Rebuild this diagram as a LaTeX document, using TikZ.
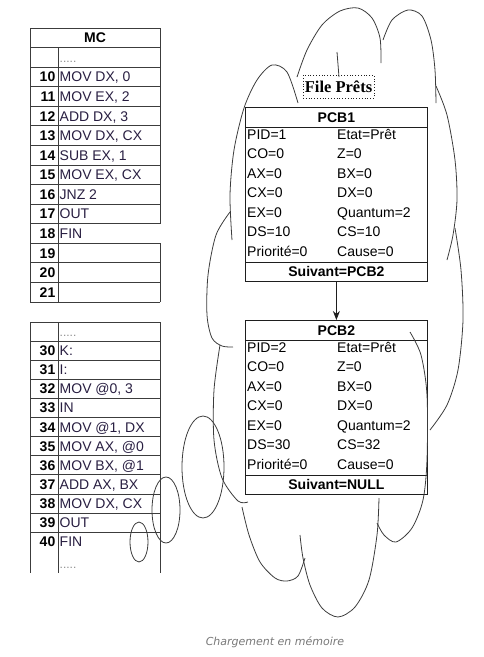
\documentclass[tikz,border=0pt]{standalone}
\usepackage{fontspec}
\setmainfont{Liberation Sans}
\newfontfamily\filefont{Liberation Serif}
\newfontfamily\capfont{DejaVu Sans}
\usepackage{tikz}
\usetikzlibrary{arrows.meta, positioning, calc}
\definecolor{mygrid}{RGB}{60,60,60}
\definecolor{mydark}{RGB}{30,30,30}
\definecolor{mycode}{RGB}{40,30,65}
\definecolor{mydots}{RGB}{140,140,140}
\definecolor{mycap}{RGB}{120,120,120}
\tikzset{
  tabline/.style={line width=0.8pt, color=mygrid},
  headtext/.style={inner sep=0pt, font=\bfseries\fontsize{14}{16}\selectfont,
    text height=10pt, text depth=0pt},
  addr/.style={anchor=east, inner sep=1pt, font=\bfseries\fontsize{14}{16}\selectfont,
    text height=10pt, text depth=0pt},
  codetext/.style={anchor=west, inner sep=1pt, text=mycode,
    font=\fontsize{14}{16}\selectfont, text height=10pt, text depth=0pt},
  dotstext/.style={anchor=base west, inner sep=1pt, text=mydots,
    font=\fontsize{12}{14}\selectfont},
  pcbbox/.style={rectangle, draw=mydark, line width=0.8pt, minimum width=182pt,
    minimum height=174pt, anchor=north west, inner sep=0pt},
  pcbline/.style={line width=0.8pt, color=mydark},
  field/.style={anchor=west, inner sep=0pt, font=\fontsize{14}{16}\selectfont,
    text height=10pt, text depth=0pt},
  filebox/.style={draw=mydark, dotted, line width=0.8pt, minimum width=71pt,
    minimum height=23pt, inner sep=0pt,
    font=\filefont\bfseries\fontsize{16.5}{18}\selectfont},
  arrow/.style={-{Stealth[length=9pt,width=7pt]}, line width=0.8pt, color=mydark},
  cloudline/.style={line width=0.8pt, color=mygrid},
  bubble/.style={line width=0.8pt, color=mygrid},
  captext/.style={font=\capfont\itshape\fontsize{11}{13}\selectfont, text=mycap}
}

\begin{document}
\begin{tikzpicture}[x=1pt, y=-1pt]
  \useasboundingbox (0,0) rectangle (484,657);

  % Memory, first block
  \foreach \k in {0,...,14}
    \draw[tabline] (30,{28+\k*19.57}) -- (160,{28+\k*19.57});
  \draw[tabline] (30,28) -- (30,302);
  \draw[tabline] (58,47.57) -- (58,302);
  \draw[tabline] (160,28) -- (160,223.7);
  \draw[tabline] (160,243.3) -- (160,302);
  \node[headtext] (mc) at (95,37.8) {MC};
  \node[dotstext] (dotsA) at (58.5,62.4) {.....};
  \foreach \num/\ins [count=\k from 2] in {10/{MOV DX, 0}, 11/{MOV EX, 2},
      12/{ADD DX, 3}, 13/{MOV DX, CX}, 14/{SUB EX, 1}, 15/{MOV EX, CX},
      16/{JNZ 2}, 17/OUT, 18/FIN, 19/{}, 20/{}, 21/{}}{
    \node[addr] (a\num) at (56.5,{28+(\k+0.5)*19.57}) {\num};
    \node[codetext] (c\num) at (58.5,{28+(\k+0.5)*19.57}) {\ins};
  }

  % Memory, second block
  \foreach \k in {0,...,11}
    \draw[tabline] (30,{322+\k*19.1}) -- (160,{322+\k*19.1});
  \draw[tabline] (30,322) -- (30,573);
  \draw[tabline] (58,322) -- (58,573);
  \draw[tabline] (160,322) -- (160,573);
  \node[dotstext] (dotsB) at (58.5,336.5) {.....};
  \foreach \num/\ins [count=\k from 1] in {30/K:, 31/I:, 32/{MOV @0, 3}, 33/IN,
      34/{MOV @1, DX}, 35/{MOV AX, @0}, 36/{MOV BX, @1}, 37/{ADD AX, BX},
      38/{MOV DX, CX}, 39/OUT, 40/FIN}{
    \node[addr] (a\num) at (56.5,{322+(\k+0.5)*19.1}) {\num};
    \node[codetext] (c\num) at (58.5,{322+(\k+0.5)*19.1}) {\ins};
  }
  \node[dotstext] (dotsC) at (58.5,568) {.....};

  % Ready queue
  \node[filebox] (file) at (338.5,86.5) {File Prêts};
  \foreach \p/\ytop/\vpid/\vds/\vcs/\vnext in {1/107/1/10/10/PCB2, 2/320/2/30/32/NULL}{
    \node[pcbbox] (pcb\p) at (245,\ytop) {};
    \node[headtext] (pcb\p-head) at ($(pcb\p.north)+(0,10.5)$) {PCB\p};
    \draw[pcbline] ($(pcb\p.north west)+(0,20)$) -- ($(pcb\p.north east)+(0,20)$);
    \draw[pcbline] ($(pcb\p.north west)+(0,155)$) -- ($(pcb\p.north east)+(0,155)$);
    \node[headtext] (pcb\p-next) at ($(pcb\p.north)+(0,164.5)$) {Suivant=\vnext};
    \foreach \l/\r [count=\i from 0] in {PID=\vpid/Etat=Prêt, CO=0/Z=0, AX=0/BX=0,
        CX=0/DX=0, EX=0/Quantum=2, DS=\vds/CS=\vcs, Priorité=0/Cause=0}{
      \node[field] (pcb\p-l\i) at ($(pcb\p.north west)+(2,{27+\i*19.5})$) {\l};
      \node[field] (pcb\p-r\i) at ($(pcb\p.north west)+(92,{27+\i*19.5})$) {\r};
    }
  }
  \draw[arrow] (pcb1.south) -- (pcb2.north);

  % Cloud outline
  \draw[cloudline] plot[smooth] coordinates {(232,240) (230,195) (234,150) (244,108) (257,80) (272,65) (287,72) (298,103)};
  \draw[cloudline] plot[smooth] coordinates {(297,77) (307,50) (322,25) (340,11) (358,8) (372,18) (380,38) (381,63)};
  \draw[cloudline] (337,52) -- (339,77);
  \draw[cloudline] plot[smooth] coordinates {(383,40) (392,20) (408,10) (422,16) (431,40) (435,70) (436,103)};
  \draw[cloudline] plot[smooth] coordinates {(436,86) (447,115) (455,160) (457,200) (453,235) (447,260)};
  \draw[cloudline] plot[smooth] coordinates {(455,228) (461,270) (463,320) (458,370) (447,405) (430,430)};
  \draw[cloudline] plot[smooth] coordinates {(410,332) (421,355) (427,395) (427,460) (423,500) (412,528) (396,542) (384,535) (377,523)};
  \draw[cloudline] plot[smooth] coordinates {(379,498) (377,535) (369,580) (355,607) (338,617) (322,608) (310,585) (303,558) (300,535)};
  \draw[cloudline] plot[smooth] coordinates {(305,558) (298,576) (287,581) (275,578) (260,562) (249,535) (242,507)};
  \draw[cloudline] plot[smooth] coordinates {(220,345) (214,390) (214,440) (222,478) (238,501) (248,502)};
  \draw[cloudline] plot[smooth] coordinates {(230,212) (216,235) (208,275) (207,315) (212,338) (222,346) (233,347)};

  % Thought bubbles
  \draw[bubble] (203,467) ellipse [x radius=21pt, y radius=51pt];
  \draw[bubble] (166,510) ellipse [x radius=14pt, y radius=33pt];
  \draw[bubble] (139,542) ellipse [x radius=9pt, y radius=20pt];

  \node[captext] (caption) at (275,642) {Chargement en mémoire};
\end{tikzpicture}
\end{document}
